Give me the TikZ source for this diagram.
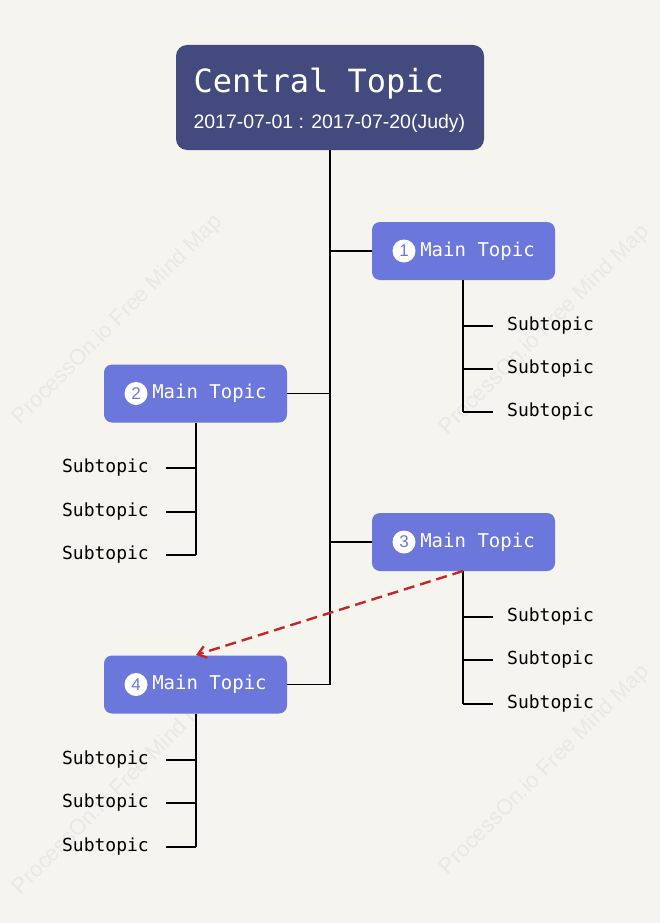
\documentclass[tikz,border=0pt]{standalone}
\usepackage{fontspec}
\usetikzlibrary{arrows.meta}
\setmainfont{Liberation Sans}
\newfontfamily\monof{DejaVu Sans Mono}
\begin{document}
\begin{tikzpicture}[x=1pt,y=-1pt,
  central/.style={fill=cdark,rounded corners=11pt,minimum width=308pt,minimum height=105pt,inner sep=0},
  mainbox/.style={fill=cmain,rounded corners=8pt,minimum width=183pt,minimum height=58pt,text=white,font=\monof\fontsize{19}{20}\selectfont},
  sub/.style={font=\monof\fontsize{18}{20}\selectfont,inner sep=0},
  num/.style={circle,fill=white,text=cmain,inner sep=0,minimum size=23pt,font=\fontsize{17}{18}\selectfont},
  ln/.style={black,line width=1.1pt},
  wm/.style={text=black!9,font=\fontsize{22}{24}\selectfont,rotate=45}]
\definecolor{bg}{HTML}{F5F4EE}
\definecolor{cdark}{HTML}{434A7E}
\definecolor{cmain}{HTML}{6B77DB}
\definecolor{cred}{HTML}{C0282A}
\fill[bg] (0,0) rectangle (660,923);
\useasboundingbox (0,0) rectangle (660,923);
\node[wm] at (118,320) {ProcessOn.io Free Mind Map};
\node[wm] at (545,330) {ProcessOn.io Free Mind Map};
\node[wm] at (545,770) {ProcessOn.io Free Mind Map};
\node[wm] at (118,790) {ProcessOn.io Free Mind Map};
% central
\node[central] (c) at (330,97.5) {};
\node[text=white,font=\monof\fontsize{32}{34}\selectfont,anchor=west] (ct) at (190,84) {Central Topic};
\node[text=white,font=\fontsize{19.5}{21}\selectfont,anchor=west] (cs) at (190,123) {2017-07-01 : 2017-07-20(Judy)};
% main topics
\node[mainbox] (m1) at (463.5,251) {\hspace{28pt}Main Topic};
\node[num] (n1) at (404,251) {1};
\node[mainbox] (m2) at (195.5,393.5) {\hspace{28pt}Main Topic};
\node[num] (n2) at (136,393.5) {2};
\node[mainbox] (m3) at (463.5,542) {\hspace{28pt}Main Topic};
\node[num] (n3) at (404,542) {3};
\node[mainbox] (m4) at (195.5,684.5) {\hspace{28pt}Main Topic};
\node[num] (n4) at (136,684.5) {4};
% trunk
\coordinate (t1) at (330,251);
\coordinate (t2) at (330,393.5);
\coordinate (t3) at (330,542);
\coordinate (t4) at (330,684.5);
\draw[ln] (c.south -| t1) -- (t4);
\draw[ln] (t1) -- (m1.west);
\draw[ln] (t2) -- (m2.east);
\draw[ln] (t3) -- (m3.west);
\draw[ln] (t4) -- (m4.east);
% right subtopics
\foreach \m/\a/\b/\c/\k in {m1/326/369/412/a, m3/617/660/704/b}{
  \foreach \y/\i in {\a/1,\b/2,\c/3}{
    \node[sub,anchor=west] (s\k\i) at (507,\y) {Subtopic};
    \draw[ln] (463,\y) -- (493,\y);
  }
  \draw[ln] (463,0 |- \m.south) -- (463,\c);
}
% left subtopics
\foreach \m/\a/\b/\c/\k in {m2/468/512/555/c, m4/760/803/847/d}{
  \foreach \y/\i in {\a/1,\b/2,\c/3}{
    \node[sub,anchor=east] (s\k\i) at (149,\y) {Subtopic};
    \draw[ln] (166,\y) -- (196,\y);
  }
  \draw[ln] (196,0 |- \m.south) -- (196,\c);
}
% dashed relation
\coordinate (ra) at (463,571);
\coordinate (rb) at (196,655);
\draw[cred,line width=2.4pt,dash pattern=on 11pt off 6pt,-{Straight Barb[length=8pt,width=12pt]}] (ra) -- (rb);
\end{tikzpicture}
\end{document}
